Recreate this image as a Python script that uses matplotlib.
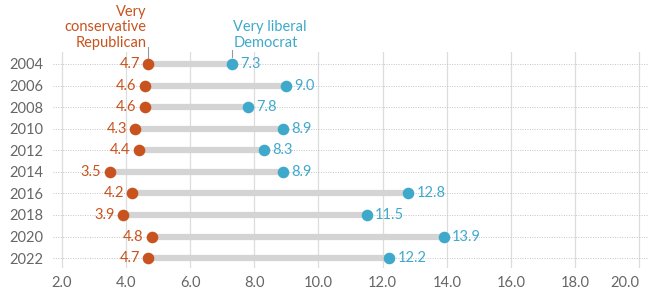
import matplotlib
matplotlib.use("Agg")
import matplotlib.pyplot as plt

years = ['2004', '2006', '2008', '2010', '2012', '2014', '2016', '2018', '2020', '2022']
conservative_rep = [4.7, 4.6, 4.6, 4.3, 4.4, 3.5, 4.2, 3.9, 4.8, 4.7]
liberal_dem = [7.3, 9.0, 7.8, 8.9, 8.3, 8.9, 12.8, 11.5, 13.9, 12.2]
xticks = [2.0, 4.0, 6.0, 8.0, 10.0, 12.0, 14.0, 16.0, 18.0, 20.0]

orange = '#C8531E'
blue = '#3FA9CB'
bar_grey = '#D4D4D4'
fs = 10.5
plt.rcParams['font.family'] = ['Lato', 'DejaVu Sans']

fig = plt.figure(figsize=(6.51, 2.93), dpi=100)
ax = fig.add_axes([0.0814, 0.0853, 0.9136, 0.737])

ys = list(range(len(years)))
for y in ys:
    ax.axhline(y, color='#C4C4C4', lw=0.7, ls=(0, (1, 1.5)), zorder=1)
for x in xticks:
    ax.axvline(x, color='#DDDDDD', lw=0.9, zorder=0)

ax.hlines(ys, conservative_rep, liberal_dem, color=bar_grey, lw=4.5, zorder=2)
ax.scatter(conservative_rep, ys, s=70, color=orange, zorder=3, linewidths=0)
ax.scatter(liberal_dem, ys, s=70, color=blue, zorder=3, linewidths=0)

for y, a, b in zip(ys, conservative_rep, liberal_dem):
    ax.annotate(f'{a:.1f}', (a, y), xytext=(-6, 0), textcoords='offset points',
                ha='right', va='center', color=orange, fontsize=fs)
    ax.annotate(f'{b:.1f}', (b, y), xytext=(6, 0), textcoords='offset points',
                ha='left', va='center', color=blue, fontsize=fs)

# headers with leader lines
ax.text(conservative_rep[0] - 0.05, -0.8, 'Very\nconservative\nRepublican',
        ha='right', va='baseline', color=orange, fontsize=fs, linespacing=1.12,
        clip_on=False)
ax.text(liberal_dem[0] + 0.05, -0.8, 'Very liberal\nDemocrat',
        ha='left', va='baseline', color=blue, fontsize=fs, linespacing=1.12,
        clip_on=False)
ax.plot([conservative_rep[0]] * 2, [-0.79, -0.28], color='#999999', lw=0.8,
        clip_on=False, zorder=3)
ax.plot([liberal_dem[0]] * 2, [-0.65, -0.3], color='#999999', lw=0.8,
        clip_on=False, zorder=3)

ax.set_xlim(1.73, 20.26)
ax.set_ylim(9.46, -0.55)
ax.set_xticks(xticks)
ax.set_xticklabels([f'{x:.1f}' for x in xticks])
ax.get_xticklabels()[-1].set_horizontalalignment('right')
ax.set_yticks(ys)
ax.set_yticklabels(years)
ax.tick_params(length=0, labelsize=fs, colors='#666666')
ax.tick_params(axis='y', pad=7)
ax.tick_params(axis='x', pad=6)
for s in ax.spines.values():
    s.set_visible(False)

fig.savefig('out.png', dpi=100)
